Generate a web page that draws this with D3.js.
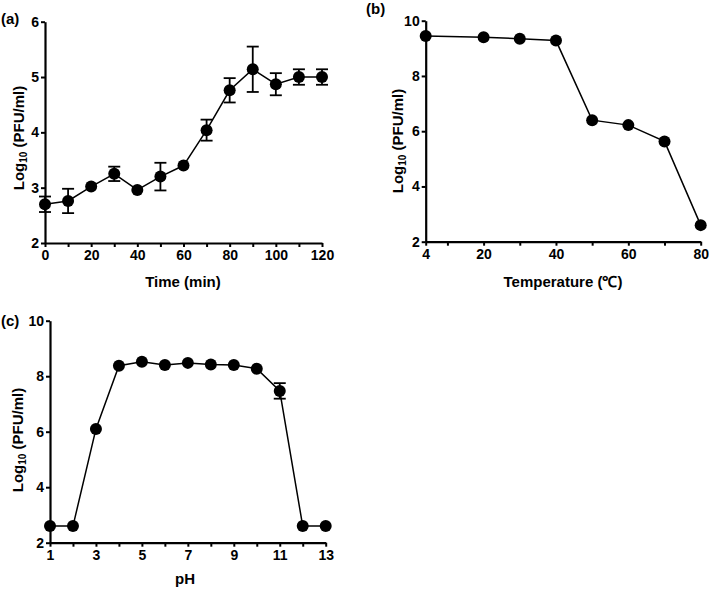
<!DOCTYPE html>
<html>
<head>
<meta charset="utf-8">
<script src="https://cdn.jsdelivr.net/npm/d3@7"></script>
<style>
  body { margin: 0; background: #fff; }
  svg { display: block; }
  text { font-family: "Liberation Sans", Arial, sans-serif; font-weight: bold; fill: #000; }
</style>
</head>
<body>
<svg id="chart" width="709" height="593"></svg>
<script>
// Panel (a): one-step growth
const timeMin = [0, 10, 20, 30, 40, 50, 60, 70, 80, 90, 100, 110, 120];
const timeLog = [2.70, 2.76, 3.02, 3.25, 2.96, 3.20, 3.40, 4.04, 4.76, 5.14, 4.87, 5.00, 5.00];
const timeErr = [0.14, 0.22, 0.00, 0.13, 0.00, 0.25, 0.00, 0.19, 0.22, 0.41, 0.20, 0.14, 0.14];
const timeTicks = [0, 20, 40, 60, 80, 100, 120];
const timeMinor = [10, 30, 50, 70, 90, 110];
const timeYTicks = [2, 3, 4, 5, 6];

// Panel (b): thermal stability
const tempC = [4, 20, 30, 40, 50, 60, 70, 80];
const tempLog = [9.45, 9.40, 9.35, 9.28, 6.40, 6.22, 5.63, 2.60];
const tempTicks = [4, 20, 40, 60, 80];
const tempMinor = [10, 30, 50, 70];
const tempYTicks = [2, 4, 6, 8, 10];

// Panel (c): pH stability
const phVals = [1, 2, 3, 4, 5, 6, 7, 8, 9, 10, 11, 12, 13];
const phLog = [2.60, 2.60, 6.10, 8.38, 8.52, 8.40, 8.48, 8.42, 8.40, 8.27, 7.47, 2.60, 2.60];
const phErr = [0, 0, 0, 0, 0, 0, 0, 0, 0, 0, 0.28, 0, 0];
const phTicks = [1, 3, 5, 7, 9, 11, 13];
const phMinor = [2, 4, 6, 8, 10, 12];
const phYTicks = [2, 4, 6, 8, 10];

const svg = d3.select("#chart");
const fmt = d3.format("d");

function styleTicks(sel) {
  sel.selectAll("text")
    .attr("fill", "#000")
    .style("font-size", "14px")
    .style("font-family", "'Liberation Sans', Arial, sans-serif")
    .style("font-weight", "bold");
}

function panel(cfg) {
  const g = svg.append("g");
  const x = d3.scaleLinear().domain(cfg.xDomain).range(cfg.xRange);
  const y = d3.scaleLinear().domain(cfg.yDomain).range(cfg.yRange);

  // minor x ticks
  const xMinor = d3.axisBottom(x).tickValues(cfg.xMinor).tickSize(4).tickFormat("");
  g.append("g").attr("transform", `translate(0,${cfg.yRange[0]})`).call(xMinor)
    .call(s => { s.select(".domain").remove(); s.selectAll("line").attr("stroke-width", 2); });

  const xAxis = d3.axisBottom(x).tickValues(cfg.xTicks).tickFormat(fmt).tickSize(4).tickPadding(3).tickSizeOuter(0);
  const gx = g.append("g").attr("transform", `translate(0,${cfg.yRange[0]})`).call(xAxis);
  gx.select(".domain").attr("stroke-width", 2.2);
  gx.selectAll("line").attr("stroke-width", 2);
  styleTicks(gx);

  const yAxis = d3.axisLeft(y).tickValues(cfg.yTicks).tickFormat(fmt).tickSize(4).tickPadding(2).tickSizeOuter(0);
  const gy = g.append("g").attr("transform", `translate(${cfg.xRange[0]},0)`).call(yAxis);
  gy.select(".domain").attr("stroke-width", 2.2);
  gy.selectAll("line").attr("stroke-width", 2);
  styleTicks(gy);

  const pts = cfg.xs.map((v, i) => ({ x: v, y: cfg.ys[i], e: cfg.errs ? cfg.errs[i] : 0 }));

  g.append("path").datum(pts)
    .attr("fill", "none").attr("stroke", "#000").attr("stroke-width", 1.5)
    .attr("d", d3.line().x(d => x(d.x)).y(d => y(d.y)));

  const eb = g.append("g").attr("stroke", "#000").attr("stroke-width", 1.8);
  pts.filter(d => d.e > 0).forEach(d => {
    const cx = x(d.x);
    eb.append("line").attr("x1", cx).attr("x2", cx).attr("y1", y(d.y - d.e)).attr("y2", y(d.y + d.e));
    eb.append("line").attr("x1", cx - 6).attr("x2", cx + 6).attr("y1", y(d.y + d.e)).attr("y2", y(d.y + d.e));
    eb.append("line").attr("x1", cx - 6).attr("x2", cx + 6).attr("y1", y(d.y - d.e)).attr("y2", y(d.y - d.e));
  });

  g.append("g").selectAll("circle").data(pts).join("circle")
    .attr("cx", d => x(d.x)).attr("cy", d => y(d.y)).attr("r", 6).attr("fill", "#000");

  // x title
  g.append("text").attr("x", cfg.xTitlePos[0]).attr("y", cfg.xTitlePos[1])
    .attr("text-anchor", "middle").style("font-size", "15px").text(cfg.xTitle);

  // y title
  const yt = g.append("text")
    .attr("transform", `translate(${cfg.yTitlePos[0]},${cfg.yTitlePos[1]}) rotate(-90)`)
    .attr("text-anchor", "middle").attr("dominant-baseline", "central").style("font-size", "15px");
  yt.append("tspan").text("Log");
  yt.append("tspan").attr("baseline-shift", "sub").style("font-size", "10px").text("10");
  yt.append("tspan").text(" (PFU/ml)");

  // panel label
  g.append("text").attr("x", cfg.labelPos[0]).attr("y", cfg.labelPos[1])
    .style("font-size", "15px").text(cfg.label);
}

panel({
  xDomain: [0, 120], xRange: [45, 322], yDomain: [2, 6], yRange: [243, 21.7],
  xTicks: timeTicks, xMinor: timeMinor, yTicks: timeYTicks,
  xs: timeMin, ys: timeLog, errs: timeErr,
  xTitle: "Time (min)", xTitlePos: [183, 287], yTitlePos: [18, 138],
  label: "(a)", labelPos: [1, 24]
});

panel({
  xDomain: [4, 80], xRange: [425.7, 700.7], yDomain: [2, 10], yRange: [241.7, 20.7],
  xTicks: tempTicks, xMinor: tempMinor, yTicks: tempYTicks,
  xs: tempC, ys: tempLog, errs: null,
  xTitle: "Temperature (\u2103)", xTitlePos: [563, 287], yTitlePos: [397, 141],
  label: "(b)", labelPos: [366, 14]
});

panel({
  xDomain: [1, 13], xRange: [50, 325.7], yDomain: [2, 10], yRange: [542.7, 320.7],
  xTicks: phTicks, xMinor: phMinor, yTicks: phYTicks,
  xs: phVals, ys: phLog, errs: phErr,
  xTitle: "pH", xTitlePos: [185, 584], yTitlePos: [17, 440],
  label: "(c)", labelPos: [1, 326]
});
</script>
</body>
</html>
